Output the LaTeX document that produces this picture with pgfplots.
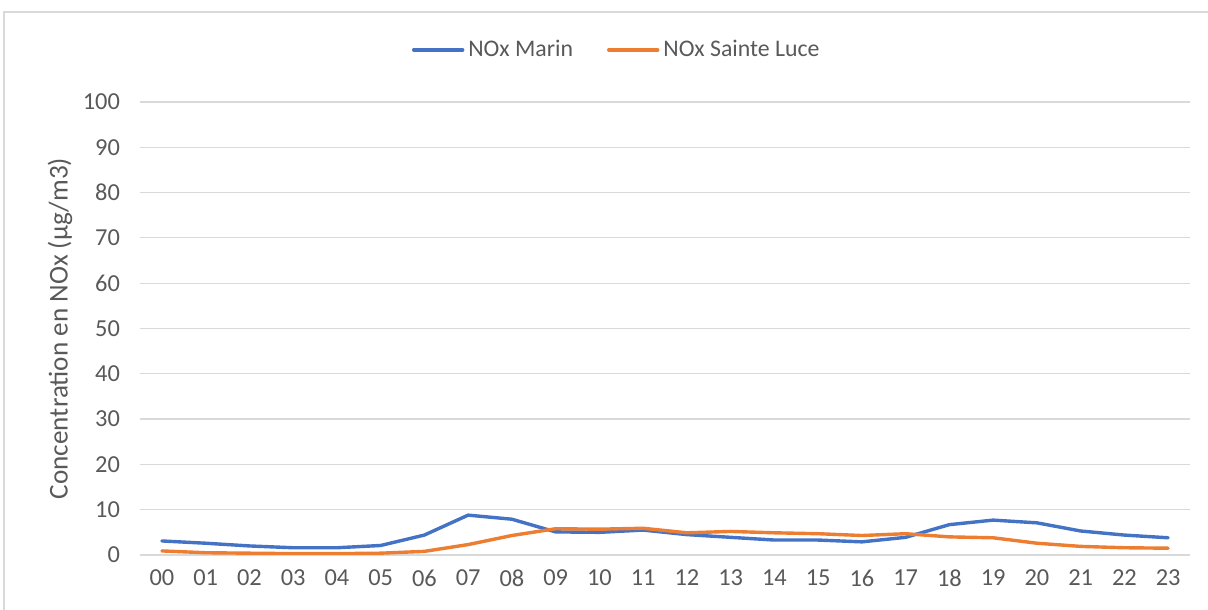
\documentclass[border=0pt]{standalone}
\usepackage{pgfplots}
\pgfplotsset{compat=1.18}
\usepackage{fontspec}
\setmainfont{Carlito}
\definecolor{marin}{HTML}{4472C4}
\definecolor{luce}{HTML}{ED7D31}
\definecolor{gridgray}{HTML}{D9D9D9}
\definecolor{textgray}{HTML}{595959}

\pgfplotstableread{
h marin luce
0  3.1 0.9
1  2.6 0.5
2  2.0 0.4
3  1.6 0.3
4  1.6 0.3
5  2.1 0.4
6  4.4 0.8
7  8.8 2.3
8  7.9 4.3
9  5.1 5.8
10 5.0 5.7
11 5.5 5.9
12 4.5 4.9
13 3.9 5.2
14 3.3 4.9
15 3.3 4.7
16 2.9 4.3
17 3.9 4.7
18 6.7 4.0
19 7.7 3.8
20 7.1 2.6
21 5.3 1.9
22 4.4 1.6
23 3.8 1.5
}\nox

\begin{document}
\begin{tikzpicture}
\useasboundingbox (0,0) rectangle (604bp,305bp);
% chart frame
\draw[gridgray, line width=0.6bp] (2bp,0) -- (2bp,299bp) -- (604bp,299bp);
\begin{axis}[
  at={(70bp,27.5bp)}, anchor=south west,
  scale only axis,
  width=525bp, height=226.5bp,
  xmin=-0.5, xmax=23.5,
  ymin=0, ymax=100,
  xtick={0,...,23},
  xticklabels={00,01,02,03,04,05,06,07,08,09,10,11,12,13,14,15,16,17,18,19,20,21,22,23},
  ytick={0,10,...,100},
  axis line style={draw=none},
  axis x line*=bottom,
  x axis line style={draw=gridgray, line width=0.6bp},
  tick style={draw=none},
  ymajorgrids,
  grid style={gridgray, line width=0.6bp},
  font=\fontsize{11.9bp}{14bp}\selectfont,
  tick label style={textgray, font=\fontsize{12.2bp}{14bp}\selectfont},
  /pgf/number format/assume math mode=true,
  yticklabel style={xshift=-6.5bp},
  xticklabel style={yshift=-4bp},
  ylabel={Concentration en NOx (µg/m3)},
  ylabel style={textgray, font=\fontsize{13.6bp}{16bp}\selectfont,
    at={(axis description cs:-0.0762,0.5)}, anchor=center, rotate=0},
  legend columns=2,
  legend style={draw=none, fill=none, at={(axis description cs:0.455,1.115)}, anchor=center,
    text=textgray, font=\fontsize{11.9bp}{14bp}\selectfont,
    /tikz/every even column/.append style={column sep=15bp}},
  legend image code/.code={\draw[#1, line width=1.7bp] (0bp,0bp) -- (24.5bp,0bp);},
  legend cell align=left,
]
\addplot[marin, line width=1.7bp, line join=round, line cap=round] table[x=h, y=marin] {\nox};
\addlegendentry{NOx Marin}
\addplot[luce, line width=1.7bp, line join=round, line cap=round] table[x=h, y=luce] {\nox};
\addlegendentry{NOx Sainte Luce}
\end{axis}
\end{tikzpicture}
\end{document}
